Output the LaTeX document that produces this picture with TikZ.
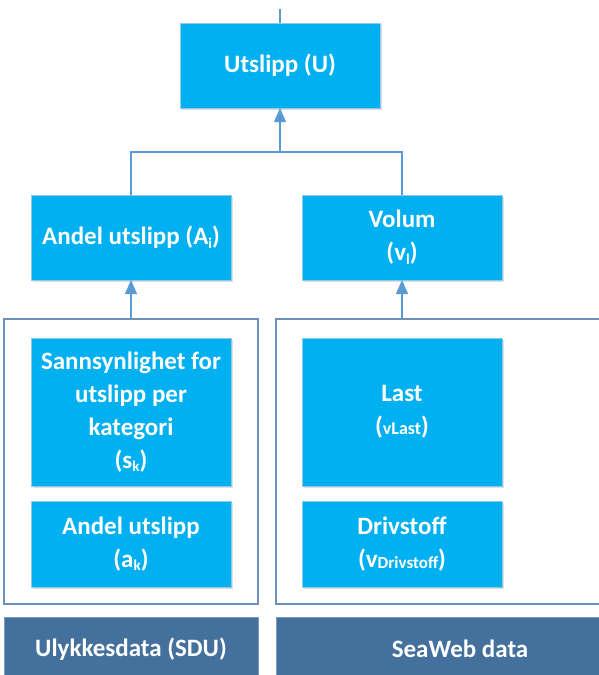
\documentclass[tikz,border=0pt]{standalone}
\usepackage{fontspec}
\setmainfont{Carlito}
\usetikzlibrary{arrows.meta,shadows}
\definecolor{lb}{HTML}{00B0F0}
\definecolor{lbedge}{HTML}{8FCBE6}
\definecolor{db}{HTML}{44709D}
\definecolor{ln}{HTML}{5B9BD5}
\definecolor{ob}{HTML}{6E8FB8}
\newcommand{\sbs}[1]{\raisebox{-3.5pt}{\fontsize{15}{15}\selectfont #1}}
\begin{document}
\begin{tikzpicture}[x=1pt,y=-1pt,
  bbox/.style={fill=lb, draw=lbedge, line width=0.8pt, text=white, font=\bfseries\fontsize{25}{33}\selectfont,
    align=center, inner sep=0pt, outer sep=0pt, minimum width=200pt,
    drop shadow={shadow xshift=1.5pt, shadow yshift=-1.5pt, opacity=0.25, fill=gray}},
  outerbox/.style={draw=ob, line width=1.3pt, fill=white, inner sep=0pt, outer sep=0pt},
  darkbox/.style={fill=db, draw=db!70!white, line width=0.8pt, text=white, font=\bfseries\fontsize{25}{28}\selectfont,
    inner sep=0pt, outer sep=0pt},
  conn/.style={draw=ln, line width=1.2pt},
  arr/.style={conn, -{Triangle[length=14pt,width=12pt]}}]
\useasboundingbox (0,0) rectangle (599,675);
\clip (0,0) rectangle (599,675);
% outer frames
\node[outerbox, minimum width=254pt, minimum height=285pt] (L) at (131,461.5) {};
\node[outerbox, minimum width=368pt, minimum height=285pt] (R) at (460,461.5) {};
% top
\node[bbox, minimum height=85pt] (U) at (280,65.5) {Utslipp (U)};
\coordinate (top) at (280,9);
\draw[conn] (top) -- (U.north);
% middle
\node[bbox, minimum height=85pt] (A) at (131,237.5) {Andel utslipp (A\sbs{i})};
\node[bbox, minimum height=85pt] (V) at (402,237.5) {Volum\\(v\sbs{l})};
\coordinate (bus) at (280,152);
\draw[conn] (A.north) |- (bus) -| (V.north);
\draw[arr] (bus) -- (U.south);
\draw[arr] (A.south |- L.north) -- (A.south);
\draw[arr] (V.south |- R.north) -- (V.south);
% inner
\node[bbox, minimum height=148pt] (S) at (131,412) {Sannsynlighet for\\utslipp per\\kategori\\(s\sbs{k})};
\node[bbox, minimum height=86pt] (ak) at (131,544) {Andel utslipp\\(a\sbs{k})};
\node[bbox, minimum height=148pt] (La) at (402,412) {Last\\({\fontsize{18}{18}\selectfont vLast})};
\node[bbox, minimum height=86pt] (D) at (402,544) {Drivstoff\\(v\raisebox{-1.5pt}{\fontsize{17}{17}\selectfont Drivstoff})};
% bottom
\node[darkbox, minimum width=254pt, minimum height=64pt] (SDU) at (131,649) {Ulykkesdata (SDU)};
\node[darkbox, minimum width=368pt, minimum height=64pt] (SW) at (460,649) {SeaWeb data};
\end{tikzpicture}
\end{document}
